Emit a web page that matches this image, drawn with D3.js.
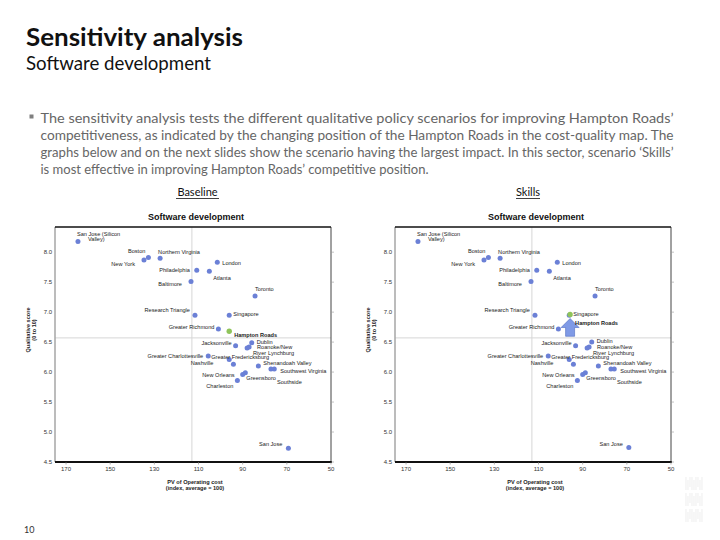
<!DOCTYPE html>
<html>
<head>
<meta charset="utf-8">
<title>Sensitivity analysis - Software development</title>
<style>
  body { margin: 0; background: #fff; }
  svg { display: block; }
  .pt-label { font-family: 'Liberation Sans', Arial, sans-serif; font-size: 5.6px; fill: #1a1a1a; }
  .tick-label { font-family: 'Liberation Sans', Arial, sans-serif; font-size: 6px; fill: #333; }
  .axis-title { font-family: 'Liberation Sans', Arial, sans-serif; font-size: 5.6px; font-weight: bold; fill: #222; }
</style>
</head>
<body>
<div id="chart"></div>
<script src="https://d3js.org/d3.v7.min.js"></script>
<script>
// city names, in the order of the value arrays below
var cities = ["San Jose (Silicon Valley)", "Boston", "New York", "Northern Virginia", "London",
  "Philadelphia", "Atlanta", "Baltimore", "Toronto", "Research Triangle", "Singapore",
  "Greater Richmond", "Jacksonville", "Dublin", "Roanoke/New River", "Lynchburg",
  "Greater Charlottesville", "Greater Fredericksburg", "Nashville", "Shenandoah Valley",
  "Southwest Virginia", "Southside", "New Orleans", "Greensboro", "Charleston", "San Jose",
  "Hampton Roads"];

// PV of operating cost (index) and qualitative score, baseline scenario
var baselineCost    = [164.6, 132.7, 134.7, 127.4, 101.5, 110.8, 105.1, 113.4, 84.4, 111.6, 96.1,
  101.0, 93.2, 85.9, 87.1, 88.0, 105.6, 96.1, 94.2, 82.9, 75.7, 77.2, 90.0, 88.8, 92.4, 69.3, 96.1];
var baselineQuality = [8.18, 7.91, 7.87, 7.90, 7.83, 7.70, 7.68, 7.51, 7.27, 6.95, 6.95,
  6.72, 6.44, 6.49, 6.42, 6.40, 6.27, 6.21, 6.13, 6.10, 6.05, 6.05, 5.96, 5.99, 5.86, 4.73, 6.68];

// 'Skills' scenario: only Hampton Roads moves
var skillsCost    = [164.6, 132.7, 134.7, 127.4, 101.5, 110.8, 105.1, 113.4, 84.4, 111.6, 96.1,
  101.0, 93.2, 85.9, 87.1, 88.0, 105.6, 96.1, 94.2, 82.9, 75.7, 77.2, 90.0, 88.8, 92.4, 69.1, 95.7];
var skillsQuality = [8.18, 7.91, 7.87, 7.90, 7.83, 7.70, 7.68, 7.51, 7.27, 6.95, 6.95,
  6.72, 6.44, 6.50, 6.42, 6.40, 6.27, 6.21, 6.13, 6.10, 6.05, 6.05, 5.96, 5.99, 5.86, 4.74, 6.96];

var xTicks = [170, 150, 130, 110, 90, 70, 50];
var yTicks = [4.5, 5.0, 5.5, 6.0, 6.5, 7.0, 7.5, 8.0];
var avgCost = 113, avgQuality = 6.57;

// where each label sits relative to its dot: [text, dx, dy, anchor]
var labelLayout = {
  "San Jose (Silicon Valley)": [["San Jose (Silicon", -1, -5], ["Valley)", 10, -0.5]],
  "Boston": [["Boston", -3, -5, "end"]],
  "New York": [["New York", -9, 6, "end"]],
  "Northern Virginia": [["Northern Virginia", -2, -4]],
  "London": [["London", 5, 3]],
  "Philadelphia": [["Philadelphia", -7, 2, "end"]],
  "Atlanta": [["Atlanta", 4, 9]],
  "Baltimore": [["Baltimore", -9, 4, "end"]],
  "Toronto": [["Toronto", 0, -5]],
  "Research Triangle": [["Research Triangle", -5, -3, "end"]],
  "Singapore": [["Singapore", 4, 1]],
  "Greater Richmond": [["Greater Richmond", -4, 0, "end"]],
  "Jacksonville": [["Jacksonville", -4, -1, "end"]],
  "Dublin": [["Dublin", 5, 1]],
  "Roanoke/New River": [["Roanoke/New", 8, 2], ["River", 4, 8]],
  "Lynchburg": [["Lynchburg", 21, 7]],
  "Greater Charlottesville": [["Greater Charlottesville", -5, 2, "end"]],
  "Greater Fredericksburg": [["Greater Fredericksburg", -18, 0]],
  "Nashville": [["Nashville", -20, 1, "end"]],
  "Shenandoah Valley": [["Shenandoah Valley", 5, -1]],
  "Southwest Virginia": [["Southwest Virginia", 6, 4]],
  "Southside": [["Southside", 6, 15]],
  "New Orleans": [["New Orleans", -8, 3, "end"]],
  "Greensboro": [["Greensboro", 1, 7]],
  "Charleston": [["Charleston", -4, 8, "end"]],
  "San Jose": [["San Jose", -6, -2, "end"]]
};

var svg = d3.select("#chart").append("svg")
    .attr("width", 720)
    .attr("height", 540);

// page heading
svg.append("text").attr("x", 26).attr("y", 46)
    .attr("textLength", 217).attr("lengthAdjust", "spacingAndGlyphs")
    .style("font-family", "Lato, 'Open Sans', sans-serif").style("font-weight", "bold")
    .style("font-size", "24px").style("fill", "#111")
    .text("Sensitivity analysis");
svg.append("text").attr("x", 26).attr("y", 70)
    .attr("textLength", 185).attr("lengthAdjust", "spacingAndGlyphs")
    .style("font-family", "Lato, 'Open Sans', sans-serif")
    .style("font-size", "19px").style("fill", "#111")
    .text("Software development");

// bullet paragraph (justified lines)
var para = [
  ["The sensitivity analysis tests the different qualitative policy scenarios for improving Hampton Roads\u2019", 633],
  ["competitiveness, as indicated by the changing position of the Hampton Roads in the cost-quality map. The", 633],
  ["graphs below and on the next slides show the scenario having the largest impact. In this sector, scenario \u2018Skills\u2019", 633],
  ["is most effective in improving Hampton Roads\u2019 competitive position.", 388]
];
svg.append("rect").attr("x", 29.5).attr("y", 114.5).attr("width", 4).attr("height", 4).style("fill", "#7f7f7f");
svg.selectAll(".para").data(para).enter().append("text")
    .attr("class", "para")
    .attr("x", 40.5)
    .attr("y", function(d, i){ return 122.5 + i * 17; })
    .attr("textLength", function(d){ return d[1]; })
    .attr("lengthAdjust", "spacingAndGlyphs")
    .style("font-family", "Lato, 'Open Sans', sans-serif")
    .style("font-size", "13px").style("fill", "#666")
    .text(function(d){ return d[0]; });

// panel headings
[["Baseline", 197.5, 176, 219], ["Skills", 528, 516, 540]].forEach(function(h){
  svg.append("text").attr("x", h[1]).attr("y", 196).attr("text-anchor", "middle")
      .style("font-family", "Lato, 'Open Sans', sans-serif").style("font-size", "11px").style("fill", "#111")
      .text(h[0]);
  svg.append("line").attr("x1", h[2]).attr("x2", h[3]).attr("y1", 198.5).attr("y2", 198.5)
      .style("stroke", "#111").style("stroke-width", 0.8);
});

function drawChart(left, cost, quality, hamptonOffset, baseQ) {
  var x = d3.scaleLinear().domain([175, 50]).range([left, left + 276]);
  var y = d3.scaleLinear().domain([4.5, 8.42]).range([462, 227]);
  var g = svg.append("g");
  var x0 = x.range()[0], x1 = x.range()[1], y0 = y.range()[0], y1 = y.range()[1];

  // chart title
  g.append("text").attr("x", (x0 + x1) / 2 + 3).attr("y", 220).attr("text-anchor", "middle")
      .style("font-family", "'Liberation Sans', Arial, sans-serif").style("font-weight", "bold")
      .style("font-size", "9px").style("fill", "#111")
      .text("Software development");

  // average lines
  g.append("line").attr("x1", x(avgCost)).attr("x2", x(avgCost)).attr("y1", y1).attr("y2", y0)
      .style("stroke", "#d6d6d6").style("stroke-width", 1);
  g.append("line").attr("x1", x0).attr("x2", x1).attr("y1", y(avgQuality)).attr("y2", y(avgQuality))
      .style("stroke", "#d6d6d6").style("stroke-width", 1);

  // frame
  g.append("line").attr("x1", x0).attr("x2", x0).attr("y1", y1).attr("y2", y0)
      .style("stroke", "#a6a6a6").style("stroke-width", 1.5);
  g.append("line").attr("x1", x1).attr("x2", x1).attr("y1", y1).attr("y2", y0)
      .style("stroke", "#444").style("stroke-width", 1);
  g.append("line").attr("x1", x0).attr("x2", x1).attr("y1", y1).attr("y2", y1)
      .style("stroke", "#111").style("stroke-width", 1.3);
  g.append("line").attr("x1", x0).attr("x2", x1 + 1).attr("y1", y0).attr("y2", y0)
      .style("stroke", "#111").style("stroke-width", 1.8);

  // ticks
  g.selectAll(".rt").data(yTicks).enter().append("line")
      .attr("x1", x1).attr("x2", x1 + 3)
      .attr("y1", function(d){ return y(d); }).attr("y2", function(d){ return y(d); })
      .style("stroke", "#999").style("stroke-width", 0.6);
  g.selectAll(".bt").data(xTicks).enter().append("line")
      .attr("x1", function(d){ return x(d); }).attr("x2", function(d){ return x(d); })
      .attr("y1", y0).attr("y2", y0 + 2.5)
      .style("stroke", "#777").style("stroke-width", 0.6);

  g.selectAll(".ytl").data(yTicks).enter().append("text")
      .attr("class", "tick-label")
      .attr("x", x0 - 3).attr("y", function(d){ return y(d) + 2; })
      .attr("text-anchor", "end")
      .text(function(d){ return d3.format(".1f")(d); });
  g.selectAll(".xtl").data(xTicks).enter().append("text")
      .attr("class", "tick-label")
      .attr("x", function(d){ return x(d); }).attr("y", y0 + 8.5)
      .attr("text-anchor", "middle")
      .text(function(d){ return d; });

  // axis titles
  g.append("text").attr("class", "axis-title").attr("text-anchor", "middle")
      .attr("transform", "translate(" + (x0 - 25) + ",330) rotate(-90)")
      .text("Qualitative score");
  g.append("text").attr("class", "axis-title").attr("text-anchor", "middle")
      .attr("transform", "translate(" + (x0 - 19.5) + ",330) rotate(-90)")
      .text("(0 to 10)");
  g.append("text").attr("class", "axis-title").attr("text-anchor", "middle")
      .attr("x", (x0 + x1) / 2 + 2).attr("y", 484).text("PV of Operating cost");
  g.append("text").attr("class", "axis-title").attr("text-anchor", "middle")
      .attr("x", (x0 + x1) / 2 + 2).attr("y", 490)
      .text("(index, average = 100)");

  var pts = cities.map(function(c, i){ return { name: c, cost: cost[i], q: quality[i] }; });
  var others = pts.filter(function(d){ return d.name !== "Hampton Roads"; });
  var hr = pts.filter(function(d){ return d.name === "Hampton Roads"; })[0];

  g.selectAll(".dot").data(others).enter().append("circle")
      .attr("cx", function(d){ return x(d.cost); })
      .attr("cy", function(d){ return y(d.q); })
      .attr("r", 2.5)
      .style("fill", "#6b80d6");

  others.forEach(function(d){
    (labelLayout[d.name] || []).forEach(function(l){
      g.append("text").attr("class", "pt-label")
          .attr("x", x(d.cost) + l[1]).attr("y", y(d.q) + l[2])
          .attr("text-anchor", l[3] || "start")
          .text(l[0]);
    });
  });

  // movement arrow for Hampton Roads
  if (baseQ !== undefined) {
    var ax = x(hr.cost), tip = y(hr.q) + 4, bot = y(baseQ) + 5;
    var path = d3.path();
    path.moveTo(ax, tip);
    path.lineTo(ax + 9, tip + 9);
    path.lineTo(ax + 4.5, tip + 9);
    path.lineTo(ax + 4.5, bot);
    path.lineTo(ax - 4.5, bot);
    path.lineTo(ax - 4.5, tip + 9);
    path.lineTo(ax - 9, tip + 9);
    path.closePath();
    g.append("path").attr("d", path.toString())
        .style("fill", "#7f9ae6").style("stroke", "#4d69bd").style("stroke-width", 0.6);
  }

  g.append("circle").attr("cx", x(hr.cost)).attr("cy", y(hr.q)).attr("r", 2.7)
      .style("fill", "#8fc45a");
  g.append("text").attr("class", "pt-label")
      .attr("x", x(hr.cost) + hamptonOffset[0]).attr("y", y(hr.q) + hamptonOffset[1])
      .style("font-weight", "bold")
      .text("Hampton Roads");
}

drawChart(55, baselineCost, baselineQuality, [5, 6]);
drawChart(395, skillsCost, skillsQuality, [5, 10],
  baselineQuality[cities.indexOf("Hampton Roads")]);

// page number
svg.append("text").attr("x", 24).attr("y", 533)
    .style("font-family", "Lato, 'Open Sans', sans-serif").style("font-size", "9px").style("fill", "#333")
    .text("10");

// faint corner logo
var logo = svg.append("g").style("stroke", "#e2e2e2").style("stroke-width", 0.6);
[477, 493, 509].forEach(function(top){
  d3.range(686, 704, 2).forEach(function(sx, k){
    logo.append("line").attr("x1", sx).attr("x2", sx)
        .attr("y1", top + (k % 3 === 1 ? 3 : 0)).attr("y2", top + 13 - (k % 4 === 2 ? 3 : 0));
  });
});
</script>
</body>
</html>
